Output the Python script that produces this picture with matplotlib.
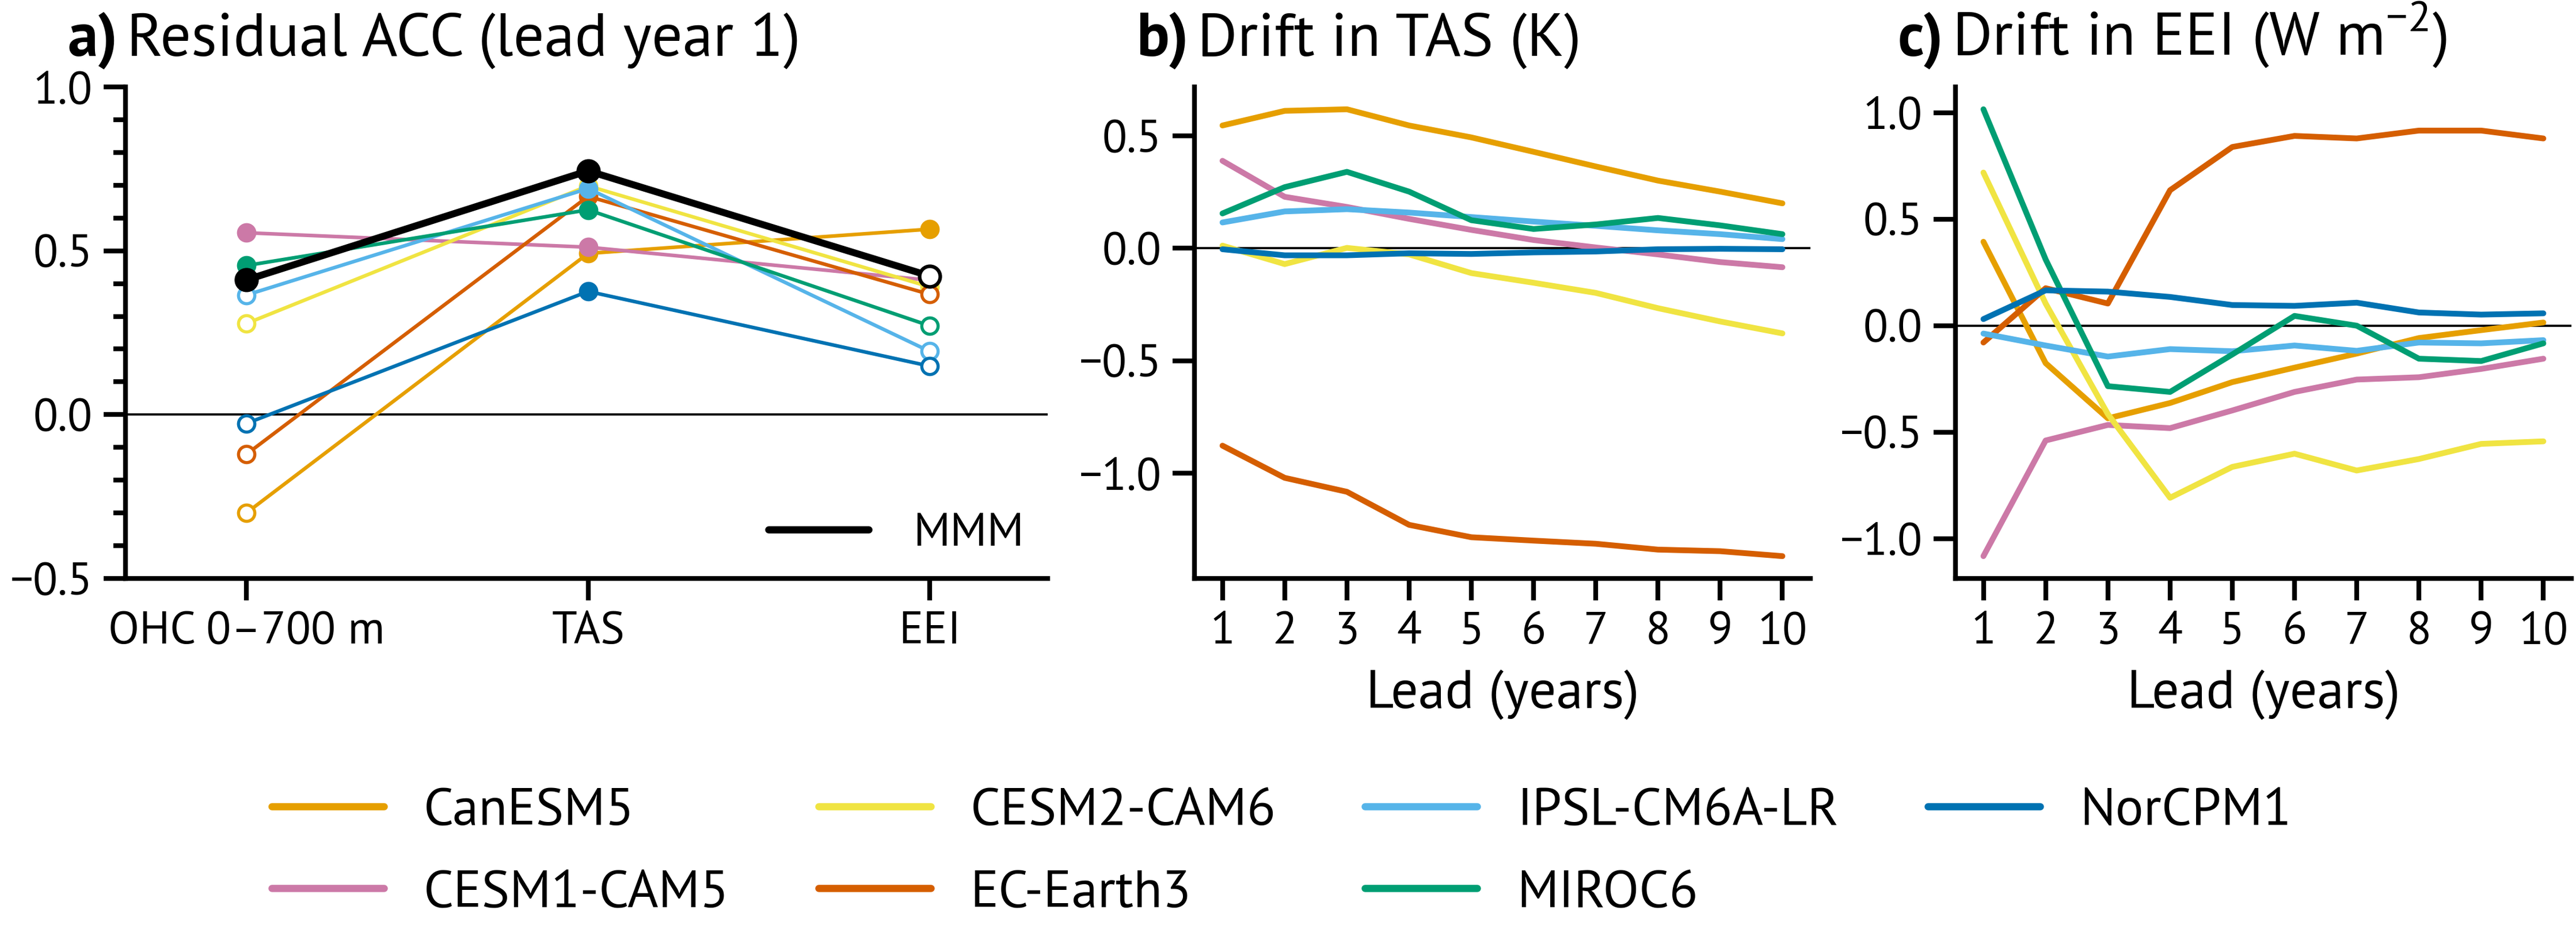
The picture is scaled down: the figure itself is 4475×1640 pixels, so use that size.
import numpy as np
import matplotlib.pyplot as plt
from matplotlib.lines import Line2D
from matplotlib.ticker import MultipleLocator
from matplotlib.font_manager import FontProperties

FONTS = ['PT Sans', 'Fira Sans', 'DejaVu Sans']
plt.rcParams['font.family'] = FONTS
plt.rcParams['mathtext.fontset'] = 'custom'
plt.rcParams['mathtext.rm'] = FONTS[0]

# models and colours (Okabe-Ito)
models = ["CanESM5", "CESM1-CAM5", "CESM2-CAM6", "EC-Earth3",
          "IPSL-CM6A-LR", "MIROC6", "NorCPM1"]
colors = ["#E69F00", "#CC79A7", "#F0E442", "#D55E00",
          "#56B4E9", "#009E73", "#0072B2"]

# panel a: residual ACC, lead year 1
variables = ["OHC 0–700 m", "TAS", "EEI"]
acc_ohc = [-0.300, 0.555, 0.278, -0.121, 0.365, 0.455, -0.027]
acc_tas = [0.492, 0.511, 0.698, 0.666, 0.690, 0.625, 0.376]
acc_eei = [0.566, 0.410, 0.390, 0.367, 0.193, 0.271, 0.148]
sig_ohc = [False, True, False, False, False, True, False]
sig_tas = [True, True, True, True, True, True, True]
sig_eei = [True, False, False, False, False, False, False]
mmm_acc = [0.411, 0.744, 0.423]
mmm_sig = [True, True, False]

# panel b: drift in TAS (K)
leads = [1, 2, 3, 4, 5, 6, 7, 8, 9, 10]
tas_canesm5 = [0.546, 0.611, 0.618, 0.546, 0.493, 0.429, 0.364, 0.301, 0.252, 0.200]
tas_cesm1 = [0.389, 0.229, 0.184, 0.131, 0.082, 0.037, 0.004, -0.027, -0.061, -0.084]
tas_cesm2 = [0.012, -0.070, 0.002, -0.027, -0.110, -0.153, -0.198, -0.266, -0.325, -0.378]
tas_ecearth = [-0.877, -1.020, -1.082, -1.229, -1.284, -1.299, -1.313, -1.339, -1.346, -1.368]
tas_ipsl = [0.115, 0.164, 0.174, 0.159, 0.139, 0.119, 0.100, 0.080, 0.063, 0.041]
tas_miroc = [0.155, 0.272, 0.340, 0.252, 0.125, 0.086, 0.106, 0.135, 0.102, 0.063]
tas_norcpm = [-0.004, -0.031, -0.031, -0.022, -0.025, -0.018, -0.014, -0.004, -0.002, -0.004]

# panel c: drift in EEI (W m-2)
eei_canesm5 = [0.394, -0.176, -0.435, -0.363, -0.265, -0.197, -0.131, -0.058, -0.021, 0.015]
eei_cesm1 = [-1.082, -0.539, -0.466, -0.481, -0.398, -0.311, -0.253, -0.242, -0.203, -0.155]
eei_cesm2 = [0.719, 0.104, -0.415, -0.808, -0.663, -0.601, -0.680, -0.626, -0.555, -0.543]
eei_ecearth = [-0.079, 0.176, 0.104, 0.636, 0.839, 0.891, 0.879, 0.916, 0.916, 0.879]
eei_ipsl = [-0.037, -0.093, -0.145, -0.110, -0.120, -0.093, -0.118, -0.079, -0.083, -0.068]
eei_miroc = [1.016, 0.311, -0.284, -0.311, -0.135, 0.046, 0.000, -0.155, -0.166, -0.083]
eei_norcpm = [0.031, 0.166, 0.160, 0.135, 0.097, 0.093, 0.108, 0.062, 0.052, 0.058]

tas_drift = [tas_canesm5, tas_cesm1, tas_cesm2, tas_ecearth, tas_ipsl, tas_miroc, tas_norcpm]
eei_drift = [eei_canesm5, eei_cesm1, eei_cesm2, eei_ecearth, eei_ipsl, eei_miroc, eei_norcpm]

DPI = 300
TICK_FS = 19
LAB_FS = 22.5
TITLE_FS = 25.5
LEG_FS = 22

fig = plt.figure(figsize=(4475 / DPI, 1640 / DPI), dpi=DPI)
ax_a = fig.add_axes([0.0487, 0.3872, 0.358, 0.5207])
ax_b = fig.add_axes([0.4637, 0.3872, 0.2391, 0.5207])
ax_c = fig.add_axes([0.7591, 0.3872, 0.2391, 0.5207])


def style_axis(ax):
    for side in ["top", "right"]:
        ax.spines[side].set_visible(False)
    for side in ["left", "bottom"]:
        ax.spines[side].set_linewidth(2.0)
    ax.tick_params(which="major", length=9.2, width=2.0, labelsize=TICK_FS, pad=4.5)
    ax.tick_params(which="minor", length=5, width=2.0)
    ax.axhline(0, color="black", lw=0.9, zorder=1)


def add_title(ax, letter, text):
    lab = ax.annotate(letter, xy=(0, 1), xycoords="axes fraction",
                      xytext=(-24, 13), textcoords="offset points",
                      fontsize=TITLE_FS, fontweight="bold", va="baseline", ha="left")
    ax.annotate(text, xy=(1, 0), xycoords=lab, xytext=(3.5, 0),
                textcoords="offset points", fontsize=TITLE_FS,
                va="bottom", ha="left")


# ---- a) residual ACC
xpos = np.arange(len(variables))
for i in range(len(models)):
    vals = [acc_ohc[i], acc_tas[i], acc_eei[i]]
    sig = [sig_ohc[i], sig_tas[i], sig_eei[i]]
    ax_a.plot(xpos, vals, color=colors[i], lw=1.5, zorder=2 + i * 0.1)
    for x, v, s in zip(xpos, vals, sig):
        ax_a.plot(x, v, "o", ms=6.8, mec=colors[i], mew=1.3,
                  mfc=colors[i] if s else "white", zorder=2.05 + i * 0.1)

ax_a.plot(xpos, mmm_acc, color="black", lw=2.9, zorder=4)
for x, v, s in zip(xpos, mmm_acc, mmm_sig):
    ax_a.plot(x, v, "o", ms=8.6, mec="black", mew=1.5,
              mfc="black" if s else "white", zorder=4.1)

style_axis(ax_a)
ax_a.set_xlim(-0.354, 2.345)
ax_a.set_ylim(-0.5, 1.0)
ax_a.set_xticks(xpos)
ax_a.set_xticklabels(variables)
ax_a.set_yticks([-0.5, 0.0, 0.5, 1.0])
ax_a.yaxis.set_minor_locator(MultipleLocator(0.1))
ax_a.legend([Line2D([0], [0], color="black", lw=3, solid_capstyle="round")], ["MMM"],
            loc="lower right", frameon=False, fontsize=19.5,
            handlelength=2.15, handletextpad=0.95, borderaxespad=0.1)
add_title(ax_a, "a)", "Residual ACC (lead year 1)")

# ---- b) and c) drift
for ax, data in [(ax_b, tas_drift), (ax_c, eei_drift)]:
    for i in range(len(models)):
        ax.plot(leads, data[i], color=colors[i], lw=2.4,
                solid_capstyle="round", solid_joinstyle="round", label=models[i], zorder=2 + i * 0.1)
    style_axis(ax)
    ax.set_xticks(leads)
    ax.set_xlabel("Lead (years)", fontsize=LAB_FS, labelpad=7)

ax_b.set_yticks([-1.0, -0.5, 0.0, 0.5])
ax_c.set_yticks([-1.0, -0.5, 0.0, 0.5, 1.0])
add_title(ax_b, "b)", "Drift in TAS (K)")
add_title(ax_c, "c)", "Drift in EEI (W m$^{\\mathregular{-2}}$)")

# shared legend: spread the 4 columns over the same width as the original
ncol, nrow = 4, 2
hlen, hpad = 2.13, 0.75
fs_px = LEG_FS * DPI / 72
renderer = fig.canvas.get_renderer()
fp = FontProperties(family=FONTS, size=LEG_FS)
col_w = []
for c in range(ncol):
    names = models[c * nrow:(c + 1) * nrow]
    col_w.append(max(renderer.get_text_width_height_descent(n, fp, ismath=False)[0] for n in names))
span_px = 3509
colsp = (span_px - ncol * (hlen + hpad) * fs_px - sum(col_w)) / (ncol - 1) / fs_px

handles = [Line2D([0], [0], color=c, lw=3, solid_capstyle="round") for c in colors]
fig.legend(handles, models, loc="center", bbox_to_anchor=(0.4975, 0.097), ncol=ncol,
           frameon=False, fontsize=LEG_FS, handlelength=hlen, handletextpad=hpad,
           columnspacing=colsp, labelspacing=0.66)

fig.savefig("out.png", dpi=DPI)
